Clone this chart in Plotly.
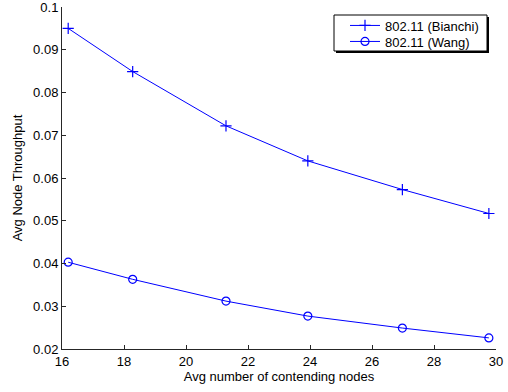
import plotly.graph_objects as go

x_nodes = [16.2, 18.28, 21.29, 23.93, 26.98, 29.77]
bianchi = [0.0950, 0.0849, 0.0722, 0.0640, 0.0573, 0.0517]
wang = [0.0403, 0.0363, 0.0312, 0.0277, 0.0249, 0.0226]

x_ticks = [16, 18, 20, 22, 24, 26, 28, 30]
y_ticks = [0.02, 0.03, 0.04, 0.05, 0.06, 0.07, 0.08, 0.09, 0.1]
y_ticklabels = ["0.02", "0.03", "0.04", "0.05", "0.06", "0.07", "0.08", "0.09", "0.1"]

FONT = "Liberation Sans, Arial, Helvetica, sans-serif"
BLUE = "#0000FF"
FS = 13

# plot area in pixels
L, R, T, B = 62, 496, 7, 349
W, H = R - L, B - T

def px_x(p):
    return (p - L) / W

def px_y(p):
    return (B - p) / H

fig = go.Figure()
fig.add_trace(go.Scatter(
    x=x_nodes, y=bianchi, mode="lines+markers", name="802.11 (Bianchi)",
    line=dict(color=BLUE, width=1), legend="legend",
    marker=dict(symbol="cross-thin-open", size=8, color=BLUE, line=dict(color=BLUE, width=1.2)),
))
fig.add_trace(go.Scatter(
    x=x_nodes, y=wang, mode="lines+markers", name="802.11 (Wang)",
    line=dict(color=BLUE, width=1), legend="legend2",
    marker=dict(symbol="circle-open", size=8, color=BLUE, line=dict(color=BLUE, width=1.2)),
))

axis_common = dict(
    showline=True, linecolor="#262626", linewidth=1, mirror=False,
    ticks="inside", ticklen=4, tickcolor="#262626", tickwidth=1,
    showgrid=False, zeroline=False, ticklabeloverflow="allow",
    tickfont=dict(family=FONT, size=FS, color="#000"),
)

legend_common = dict(
    xanchor="left", yanchor="middle",
    bgcolor="rgba(0,0,0,0)", borderwidth=0,
    font=dict(family=FONT, size=FS, color="#000"),
    itemwidth=30,
)

fig.update_layout(
    template="none",
    width=508, height=392,
    margin=dict(l=L, r=508 - R, t=T, b=392 - B, pad=0),
    paper_bgcolor="white", plot_bgcolor="white",
    font=dict(family=FONT, size=FS, color="#000"),
    showlegend=True,
    legend=dict(x=px_x(345), y=px_y(25.5), **legend_common),
    legend2=dict(x=px_x(345), y=px_y(41.5), **legend_common),
    xaxis=dict(
        range=[16, 30], tickvals=x_ticks, ticktext=[str(v) for v in x_ticks],
        automargin="bottom",
        title=dict(text="Avg number of contending nodes", font=dict(family=FONT, size=FS), standoff=2),
        **axis_common,
    ),
    yaxis=dict(
        range=[0.02, 0.1], tickvals=y_ticks, ticktext=y_ticklabels,
        automargin="left",
        title=dict(text="Avg Node Throughput", font=dict(family=FONT, size=FS), standoff=7),
        **axis_common,
    ),
    shapes=[
        dict(type="rect", xref="paper", yref="paper",
             x0=px_x(336), x1=px_x(489), y0=px_y(53), y1=px_y(17),
             fillcolor="#000", line=dict(width=0), layer="above"),
        dict(type="rect", xref="paper", yref="paper",
             x0=px_x(334), x1=px_x(487), y0=px_y(51), y1=px_y(15),
             fillcolor="white", line=dict(color="#000", width=1), layer="above"),
    ],
)

fig.write_html("out.html", config={"displayModeBar": False},
               post_script="document.body.style.margin='0';")
